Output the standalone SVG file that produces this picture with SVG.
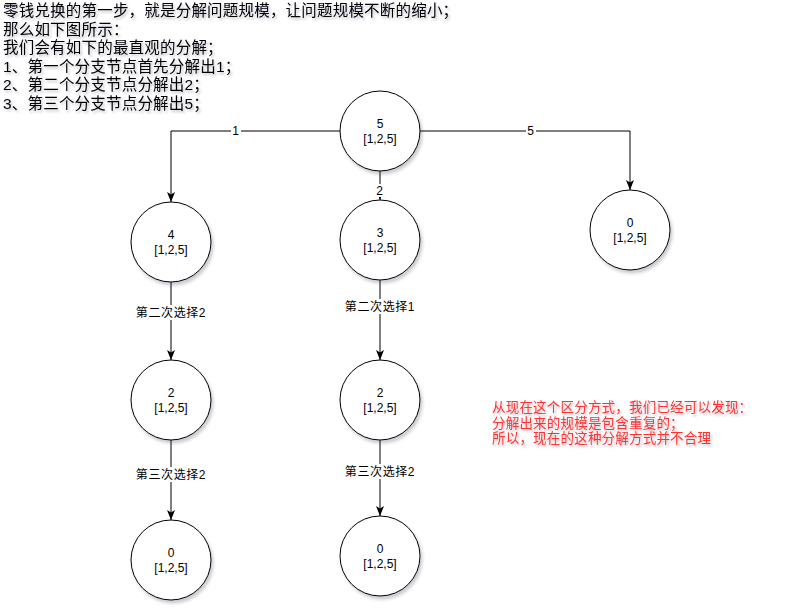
<svg xmlns="http://www.w3.org/2000/svg" width="791" height="613" viewBox="0 0 791 613">
<style>
.node circle{fill:#fff;stroke:#000;stroke-width:1;filter:url(#sh)}
.nt{font-family:"Liberation Sans","Noto Sans CJK SC",sans-serif;font-size:12px;fill:#000;text-anchor:middle}
.edge{fill:none;stroke:#000;stroke-width:1}
.lbg{fill:#fff}
.lt{font-family:"Liberation Sans","Noto Sans CJK SC",sans-serif;font-size:12px;letter-spacing:0.6px;fill:#000;text-anchor:middle;dominant-baseline:central}
.hd{font-family:"Liberation Sans","Noto Sans CJK SC",sans-serif;font-size:15.5px;letter-spacing:0.2px;fill:#000;filter:url(#tsh)}
.red{font-family:"Liberation Sans","Noto Sans CJK SC",sans-serif;font-size:13.5px;letter-spacing:0.2px;fill:#FF3333;filter:url(#tsh)}
</style>
<defs>
<filter id="sh" x="-20%" y="-20%" width="150%" height="150%">
<feDropShadow dx="2" dy="3" stdDeviation="1.5" flood-color="#334" flood-opacity="0.25"/>
</filter>
<filter id="tsh" x="-5%" y="-30%" width="110%" height="170%">
<feDropShadow dx="1.5" dy="2" stdDeviation="1" flood-color="#334" flood-opacity="0.3"/>
</filter>
<marker id="arr" markerUnits="userSpaceOnUse" markerWidth="10" markerHeight="10" viewBox="0 0 10 10" refX="10" refY="5" orient="auto">
<path d="M0,1 L10,5 L0,9 L2.5,5 z" fill="#000"/>
</marker>
</defs>
<rect width="791" height="613" fill="#fff"/>
<g id="header">
<text class="hd" x="3" y="16">零钱兑换的第一步，就是分解问题规模，让问题规模不断的缩小；</text>
<text class="hd" x="3" y="34.5">那么如下图所示：</text>
<text class="hd" x="3" y="53">我们会有如下的最直观的分解；</text>
<text class="hd" x="3" y="71.5">1、第一个分支节点首先分解出1；</text>
<text class="hd" x="3" y="90">2、第二个分支节点分解出2；</text>
<text class="hd" x="3" y="108.5">3、第三个分支节点分解出5；</text>
</g>
<g id="note">
<text class="red" x="492" y="412">从现在这个区分方式，我们已经可以发现：</text>
<text class="red" x="492" y="427.5">分解出来的规模是包含重复的；</text>
<text class="red" x="492" y="443">所以，现在的这种分解方式并不合理</text>
</g>
<g id="connectors">
<path class="edge" d="M340,131 H171 V202" marker-end="url(#arr)"/>
<path class="edge" d="M420,131 H630 V190" marker-end="url(#arr)"/>
<path class="edge" d="M380,171 V200" marker-end="url(#arr)"/>
<path class="edge" d="M171,282 V360" marker-end="url(#arr)"/>
<path class="edge" d="M380,280 V360" marker-end="url(#arr)"/>
<path class="edge" d="M171,440 V520" marker-end="url(#arr)"/>
<path class="edge" d="M380,440 V516" marker-end="url(#arr)"/>
<rect class="lbg" x="231" y="124" width="10" height="14"/><text class="lt" x="236" y="131">1</text>
<rect class="lbg" x="526" y="124" width="10" height="14"/><text class="lt" x="531" y="131">5</text>
<rect class="lbg" x="375" y="184" width="10" height="13"/><text class="lt" x="380" y="190.5">2</text>
<rect class="lbg" x="135" y="305" width="74" height="15"/><text class="lt" x="171" y="312.5">第二次选择2</text>
<rect class="lbg" x="343" y="299" width="74" height="15"/><text class="lt" x="380" y="306.5">第二次选择1</text>
<rect class="lbg" x="135" y="467" width="74" height="15"/><text class="lt" x="171" y="474.5">第三次选择2</text>
<rect class="lbg" x="343" y="464" width="74" height="15"/><text class="lt" x="380" y="471.5">第三次选择2</text>
</g>
<g id="n5" class="node"><circle cx="380" cy="131" r="40"/><text class="nt" x="380" y="128">5</text><text class="nt" x="380" y="143">[1,2,5]</text></g>
<g id="n4" class="node"><circle cx="171" cy="242" r="40"/><text class="nt" x="171" y="239">4</text><text class="nt" x="171" y="254">[1,2,5]</text></g>
<g id="n3" class="node"><circle cx="380" cy="240" r="40"/><text class="nt" x="380" y="237">3</text><text class="nt" x="380" y="252">[1,2,5]</text></g>
<g id="n0r" class="node"><circle cx="630" cy="230" r="40"/><text class="nt" x="630" y="227">0</text><text class="nt" x="630" y="242">[1,2,5]</text></g>
<g id="n2l" class="node"><circle cx="171" cy="400" r="40"/><text class="nt" x="171" y="397">2</text><text class="nt" x="171" y="412">[1,2,5]</text></g>
<g id="n2m" class="node"><circle cx="380" cy="400" r="40"/><text class="nt" x="380" y="397">2</text><text class="nt" x="380" y="412">[1,2,5]</text></g>
<g id="n0l" class="node"><circle cx="171" cy="560" r="40"/><text class="nt" x="171" y="557">0</text><text class="nt" x="171" y="572">[1,2,5]</text></g>
<g id="n0m" class="node"><circle cx="380" cy="556" r="40"/><text class="nt" x="380" y="553">0</text><text class="nt" x="380" y="568">[1,2,5]</text></g>
</svg>
